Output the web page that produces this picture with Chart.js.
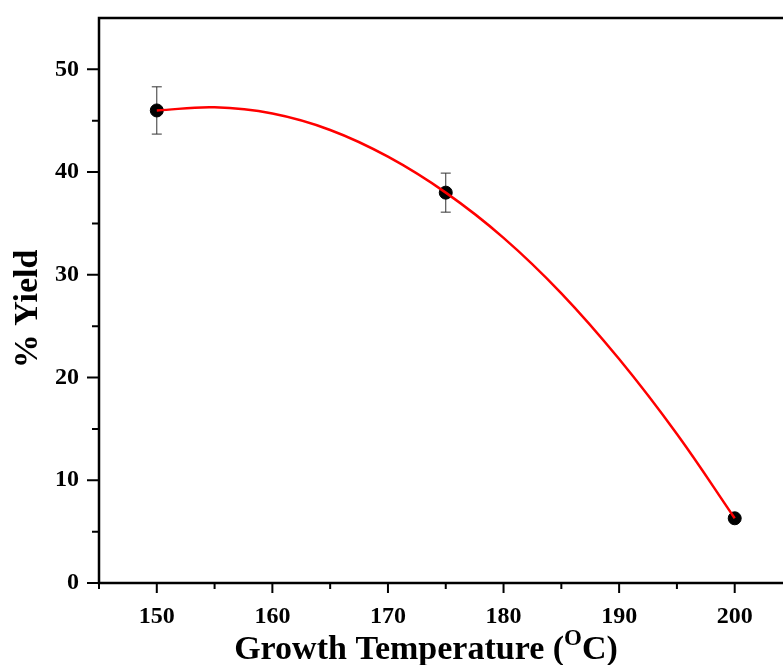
<!DOCTYPE html>
<html>
<head>
<meta charset="utf-8">
<script src="https://cdn.jsdelivr.net/npm/chart.js@4.4.1/dist/chart.umd.min.js"></script>
<style>
  html, body { margin: 0; padding: 0; background: #fff; overflow: hidden; }
  #wrap { width: 783px; height: 665px; overflow: hidden; }
</style>
</head>
<body>
<div id="wrap"><canvas id="c" width="800" height="665"></canvas></div>
<script>
// measured points
const temps = [150, 175, 200];
const yieldPct = [46.0, 38.0, 6.3];
const yieldErr = [2.3, 1.9, 0];

// red fit curve
const fitTemps = [150, 155, 160, 165, 170, 175, 180, 185, 190, 195, 200];
const fitYield = [46.0, 46.3, 45.7, 44.1, 41.5, 38.0, 33.6, 28.2, 21.8, 14.5, 6.3];

const xTicks = [150, 160, 170, 180, 190, 200];
const yTicks = [0, 10, 20, 30, 40, 50];
const xMinor = [145, 155, 165, 175, 185, 195, 205];
const yMinor = [5, 15, 25, 35, 45];

const FONT = '"Liberation Serif", "Times New Roman", serif';

// frame, tick marks, error bars and axis titles
const framePlugin = {
  id: "frame",
  beforeDatasetsDraw(chart) {
    const ctx = chart.ctx;
    const x = chart.scales.x, y = chart.scales.y;
    ctx.save();
    ctx.strokeStyle = "#333";
    ctx.lineWidth = 1;
    temps.forEach((t, i) => {
      const e = yieldErr[i];
      if (!e) return;
      const px = x.getPixelForValue(t);
      const top = y.getPixelForValue(yieldPct[i] + e);
      const bot = y.getPixelForValue(yieldPct[i] - e);
      ctx.beginPath();
      ctx.moveTo(px, top); ctx.lineTo(px, bot);
      ctx.moveTo(px - 5, top); ctx.lineTo(px + 5, top);
      ctx.moveTo(px - 5, bot); ctx.lineTo(px + 5, bot);
      ctx.stroke();
    });
    ctx.restore();
  },
  afterDraw(chart) {
    const ctx = chart.ctx;
    const a = chart.chartArea;
    const x = chart.scales.x, y = chart.scales.y;
    ctx.save();
    ctx.strokeStyle = "#000";
    ctx.lineWidth = 2.5;
    ctx.strokeRect(a.left, a.top, a.right - a.left, a.bottom - a.top);
    ctx.lineWidth = 2;
    ctx.beginPath();
    xTicks.forEach(v => { const p = x.getPixelForValue(v); ctx.moveTo(p, a.bottom); ctx.lineTo(p, a.bottom + 10); });
    xMinor.forEach(v => { const p = x.getPixelForValue(v); ctx.moveTo(p, a.bottom); ctx.lineTo(p, a.bottom + 6); });
    yTicks.forEach(v => { const p = y.getPixelForValue(v); ctx.moveTo(a.left, p); ctx.lineTo(a.left - 12, p); });
    yMinor.forEach(v => { const p = y.getPixelForValue(v); ctx.moveTo(a.left, p); ctx.lineTo(a.left - 7, p); });
    ctx.stroke();

    // x title with superscript O
    ctx.fillStyle = "#000";
    ctx.textBaseline = "alphabetic";
    const big = "bold 34px " + FONT, small = "bold 23px " + FONT;
    const parts = [["Growth Temperature (", big, 0], ["O", small, -14], ["C)", big, 0]];
    let w = 0;
    parts.forEach(p => { ctx.font = p[1]; w += ctx.measureText(p[0]).width; });
    let cx = 426 - w / 2;
    parts.forEach(p => {
      ctx.font = p[1];
      ctx.textAlign = "left";
      ctx.fillText(p[0], cx, 659 + p[2]);
      cx += ctx.measureText(p[0]).width;
    });

    // y title
    ctx.translate(37, 309);
    ctx.rotate(-Math.PI / 2);
    ctx.font = "bold 34px " + FONT;
    ctx.textAlign = "center";
    ctx.fillText("% Yield", 0, 0);
    ctx.restore();
  }
};

new Chart(document.getElementById("c"), {
  type: "scatter",
  data: {
    datasets: [
      {
        label: "fit",
        data: fitTemps.map((t, i) => ({ x: t, y: fitYield[i] })),
        showLine: true,
        borderColor: "#ff0000",
        borderWidth: 2.5,
        pointRadius: 0,
        tension: 0.4,
        order: 0
      },
      {
        label: "yield",
        data: temps.map((t, i) => ({ x: t, y: yieldPct[i] })),
        backgroundColor: "#000",
        borderColor: "#000",
        pointRadius: 6.5,
        order: 1
      }
    ]
  },
  options: {
    responsive: false,
    animation: false,
    layout: { padding: { top: 18, right: 5, left: 0, bottom: 0 } },
    plugins: { legend: { display: false }, tooltip: { enabled: false } },
    scales: {
      x: {
        type: "linear",
        min: 145,
        max: 205,
        afterBuildTicks: s => { s.ticks = xTicks.map(v => ({ value: v })); },
        afterFit: s => { s.height = 82; s.paddingLeft = 0; s.paddingRight = 0; },
        grid: { display: false },
        border: { display: false },
        ticks: {
          padding: 11,
          color: "#000",
          font: { family: FONT, size: 24, weight: "bold" }
        }
      },
      y: {
        min: 0,
        max: 55,
        afterBuildTicks: s => { s.ticks = yTicks.map(v => ({ value: v })); },
        afterFit: s => { s.width = 99; s.paddingTop = 0; s.paddingBottom = 0; },
        grid: { display: false },
        border: { display: false },
        ticks: {
          padding: 12,
          color: "#000",
          font: { family: FONT, size: 24, weight: "bold" }
        }
      }
    }
  },
  plugins: [framePlugin]
});
</script>
</body>
</html>
